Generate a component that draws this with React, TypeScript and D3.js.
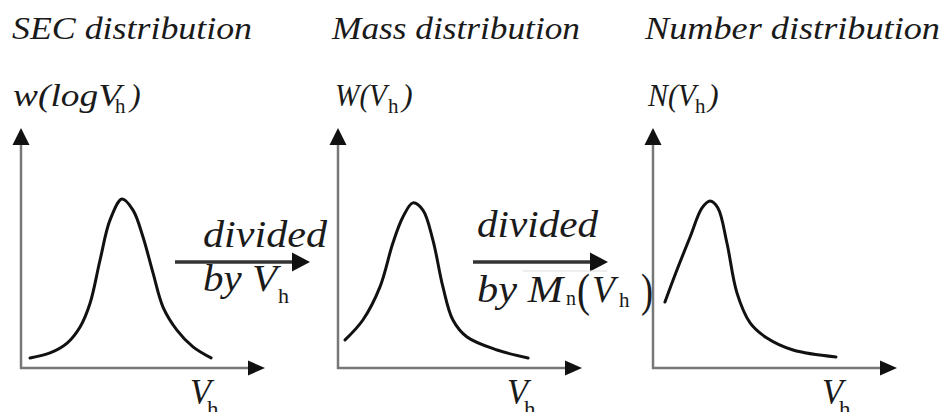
import { useEffect } from 'react';
import * as d3 from 'd3';

// curve shapes, in axis units (x: 0..10, y: 0..1)
const secCurve: [number, number][] = [
  [0.37, 0.042], [1.19, 0.063], [1.89, 0.104], [2.42, 0.171], [2.83, 0.27],
  [3.24, 0.45], [3.65, 0.617], [4.14, 0.704], [4.59, 0.658], [5.0, 0.546],
  [5.41, 0.396], [5.82, 0.254], [6.39, 0.158], [7.05, 0.088], [7.79, 0.042],
];
const massCurve: [number, number][] = [
  [0.29, 0.117], [1.02, 0.2], [1.72, 0.338], [2.25, 0.521], [2.66, 0.629],
  [3.07, 0.688], [3.48, 0.658], [3.89, 0.533], [4.3, 0.338], [4.71, 0.2],
  [5.29, 0.129], [6.52, 0.075], [7.79, 0.042],
];
const numberCurve: [number, number][] = [
  [0.49, 0.275], [0.98, 0.408], [1.52, 0.546], [2.01, 0.667], [2.34, 0.696],
  [2.66, 0.667], [3.03, 0.521], [3.44, 0.313], [3.98, 0.188], [4.67, 0.125],
  [5.74, 0.075], [7.5, 0.046],
];

const titles = ['SEC distribution', 'Mass distribution', 'Number distribution'];
const yLabels = ['w(logV', 'W(V', 'N(V'];
const curves = [secCurve, massCurve, numberCurve];

// layout
const W = 943;
const H = 412;
const panelX = [21, 338, 653];
const axisLen = 244;
const baseY = 368;
const topY = 128;
const titleX = [12, 332, 645];
const titleLen = [240, 248, 295];
const yLabelLen = [108, 52, 48];
const subX = [115, 388, 695];
const closeX = [130, 402, 708];

function T({ x, y, size, len, italic = true, children }: any) {
  const extra: any = {};
  if (len) {
    extra.textLength = len;
    extra.lengthAdjust = 'spacingAndGlyphs';
  }
  return (
    <text
      x={x}
      y={y}
      fill="#1a1a1a"
      style={{ fontFamily: 'Times New Roman', fontSize: size, fontStyle: italic ? 'italic' : 'normal' }}
      {...extra}
    >
      {children}
    </text>
  );
}

function Arrow({ x1, x2, y }: { x1: number; x2: number; y: number }) {
  const head = 18;
  return (
    <g>
      <line x1={x1} x2={x2 - head + 2} y1={y} y2={y} stroke="#333" strokeWidth={3.5} />
      <path d={`M${x2 - head},${y - 9.5} L${x2},${y} L${x2 - head},${y + 9.5} Z`} fill="#111" />
    </g>
  );
}

function Panel({ i }: { i: number }) {
  const x0 = panelX[i];
  const xs = d3.scaleLinear().domain([0, 10]).range([x0, x0 + axisLen]);
  const ys = d3.scaleLinear().domain([0, 1]).range([baseY, topY]);
  const line = d3
    .line<[number, number]>()
    .x((d) => xs(d[0]))
    .y((d) => ys(d[1]))
    .curve(d3.curveCatmullRom.alpha(0.5));
  const ax = '#777';
  const tipX = xs(10);
  const tipY = ys(1);
  return (
    <g>
      <T x={titleX[i]} y={39} size={31} len={titleLen[i]}>{titles[i]}</T>
      <T x={titleX[i] + (i === 0 ? 1 : 3)} y={106} size={32} len={yLabelLen[i]}>{yLabels[i]}</T>
      <T x={subX[i]} y={113} size={21} italic={false}>h</T>
      <T x={closeX[i]} y={106} size={32}>)</T>

      {/* axes */}
      <line x1={x0} x2={x0} y1={baseY + 1} y2={tipY + 16} stroke={ax} strokeWidth={2.5} />
      <path d={`M${x0 - 8.5},${tipY + 17} L${x0},${tipY} L${x0 + 8.5},${tipY + 17} Z`} fill="#111" />
      <line x1={x0 - 1} x2={tipX - 16} y1={baseY} y2={baseY} stroke={ax} strokeWidth={2.5} />
      <path d={`M${tipX - 17},${baseY - 7.5} L${tipX},${baseY} L${tipX - 17},${baseY + 7.5} Z`} fill="#111" />

      <path d={line(curves[i]) || ''} fill="none" stroke="#111" strokeWidth={3} strokeLinecap="round" />

      <T x={x0 + 169} y={404} size={36} len={21}>V</T>
      <T x={x0 + 186} y={417} size={23} italic={false}>h</T>
    </g>
  );
}

export default function App() {
  useEffect(() => {
    document.body.style.margin = '0';
  }, []);

  return (
    <svg width={W} height={H} style={{ display: 'block', background: '#fff' }}>
      {[0, 1, 2].map((i) => (
        <Panel key={i} i={i} />
      ))}

      {/* divided by V_h */}
      <T x={203} y={247} size={38} len={124}>divided</T>
      <Arrow x1={175} x2={310} y={262} />
      <T x={203} y={291} size={37} len={74}>by V</T>
      <T x={278} y={303} size={22} italic={false}>h</T>

      {/* divided by Mn(V_h) */}
      <T x={477} y={237} size={38} len={121}>divided</T>
      <Arrow x1={473} x2={608} y={262} />
      <line x1={523} x2={607} y1={271} y2={271} stroke="#ddd" strokeWidth={1.2} />
      <T x={477} y={302} size={37} len={86}>by M</T>
      <T x={566} y={305} size={20} italic={false}>n</T>
      <T x={577} y={306} size={46} italic={false} len={13}>(</T>
      <T x={592} y={302} size={37} len={23}>V</T>
      <T x={619} y={307} size={21} italic={false}>h</T>
      <T x={641} y={306} size={46} italic={false} len={12}>)</T>
    </svg>
  );
}
